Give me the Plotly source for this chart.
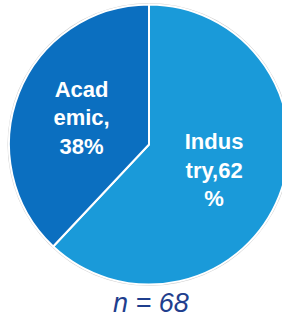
import plotly.graph_objects as go

categories = ["Industry", "Academic"]
values = [62, 38]
label_text = ["Indus<br>try,62<br>%", "Acad<br>emic,<br>38%"]
colors = ["#1A9AD9", "#0B6FC0"]
n_label = "n = 68"

# figure is a little wider than the window so the pie is clipped at the right edge like the reference
W, H = 292, 317
cx, cy, r = 149, 144.5, 140

fig = go.Figure()
# faint grey outer ring
fig.add_trace(go.Pie(
    values=[1], marker=dict(colors=["#CFCFCF"], line=dict(width=0)),
    textinfo="none", hoverinfo="skip", showlegend=False, sort=False,
    domain=dict(x=[(cx - r - 1.5) / W, (cx + r + 1.5) / W],
                y=[1 - (cy + r + 1.5) / H, 1 - (cy - r - 1.5) / H]),
))
fig.add_trace(go.Pie(
    labels=categories, values=values, text=label_text,
    textinfo="text", textposition="inside", insidetextorientation="horizontal",
    direction="clockwise", sort=False, rotation=0,
    marker=dict(colors=colors, line=dict(color="white", width=2)),
    insidetextfont=dict(family="Liberation Sans, Arial, sans-serif", size=22, color="white", weight="bold"),
    showlegend=False, hoverinfo="label+percent",
    domain=dict(x=[(cx - r) / W, (cx + r) / W],
                y=[1 - (cy + r) / H, 1 - (cy - r) / H]),
))
fig.add_annotation(
    text=n_label, xref="paper", yref="paper", x=151 / W, y=1 - 303 / H,
    xanchor="center", yanchor="middle", showarrow=False,
    font=dict(family="Liberation Sans, Arial, sans-serif", size=27, color="#1F3F8E", style="italic"),
)
fig.update_layout(
    width=W, height=H, margin=dict(l=0, r=0, t=0, b=0),
    paper_bgcolor="white", plot_bgcolor="white",
)
fig.write_html(
    "out.html",
    config={"displayModeBar": False},
    post_script="document.body.style.margin='0';document.body.style.overflow='hidden';document.documentElement.style.overflow='hidden';",
)
